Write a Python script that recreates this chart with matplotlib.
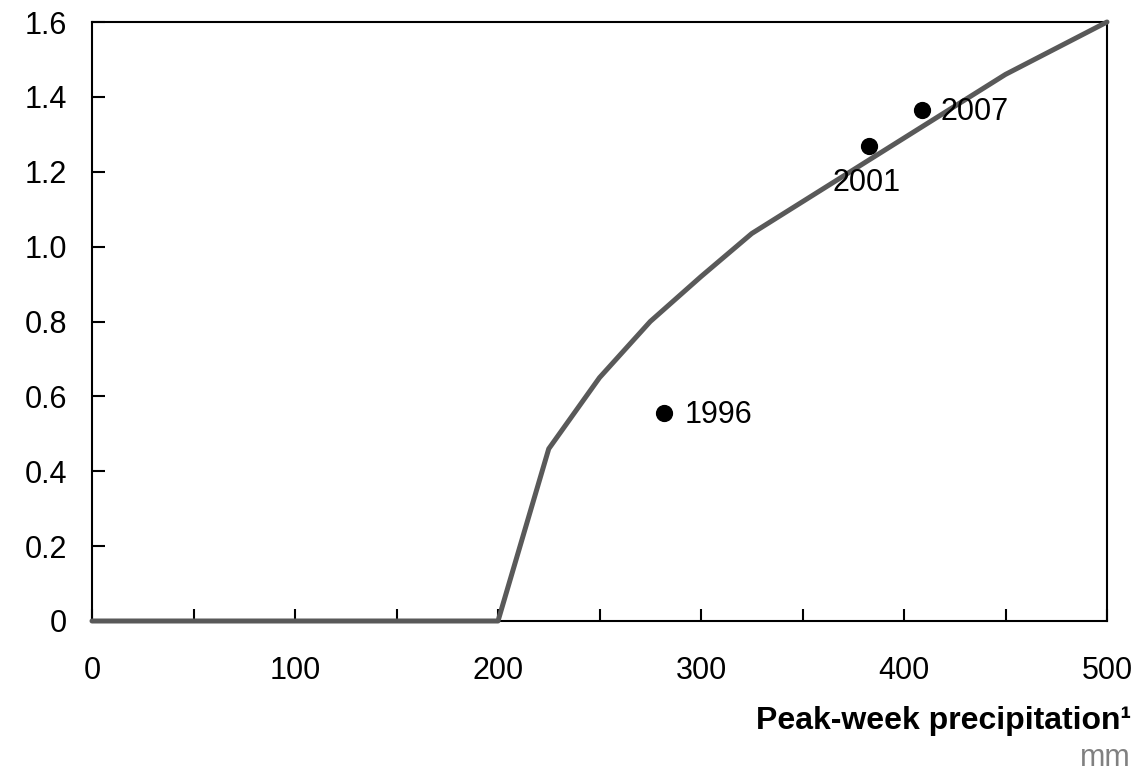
import matplotlib
matplotlib.use("Agg")
import matplotlib.pyplot as plt

curve_x = [0, 200, 225, 250, 275, 300, 325, 350, 375, 400, 425, 450, 475, 500]
curve_y = [0, 0, 0.46, 0.65, 0.80, 0.92, 1.035, 1.12, 1.205, 1.29, 1.375, 1.46, 1.53, 1.60]

years = ["1996", "2001", "2007"]
pts_x = [282, 383, 409]
pts_y = [0.555, 1.27, 1.365]

plt.rcParams['font.family'] = ['Liberation Sans', 'DejaVu Sans']

fig = plt.figure(figsize=(11.42, 7.75), dpi=100)
ax = fig.add_axes([92/1142, 1 - 621/775, (1107-92)/1142, (621-22)/775])

ax.plot(curve_x, curve_y, color='#595959', lw=3.6, solid_capstyle='round', zorder=3, clip_on=False)
ax.scatter(pts_x, pts_y, s=130, color='black', zorder=4, clip_on=False)

offsets = {"1996": (10, -0.005, 'left', 'center'),
           "2001": (-18, -0.10, 'left', 'center'),
           "2007": (9, -0.005, 'left', 'center')}
for yr, x, y in zip(years, pts_x, pts_y):
    dx, dy, ha, va = offsets[yr]
    ax.text(x + dx, y + dy, yr, fontsize=22, ha=ha, va=va, color='black', zorder=5)

ax.set_xlim(0, 500)
ax.set_ylim(0, 1.6)
ax.set_xticks(range(0, 501, 100))
ax.set_xticks(range(0, 501, 50), minor=True)
ax.set_yticks([0, 0.2, 0.4, 0.6, 0.8, 1.0, 1.2, 1.4, 1.6])
ax.set_yticklabels(["0", "0.2", "0.4", "0.6", "0.8", "1.0", "1.2", "1.4", "1.6"])
ax.tick_params(axis='both', which='both', direction='in', labelsize=22, width=1.5, color='black')
ax.tick_params(axis='x', which='major', length=9, pad=25)
ax.tick_params(axis='x', which='minor', length=9)
ax.tick_params(axis='y', which='major', length=9, pad=18)
for s in ax.spines.values():
    s.set_linewidth(1.5)
    s.set_color('black')

fig.text(1131/1142, 1 - 729/775, "Peak-week precipitation\u00b9", fontsize=23, fontweight='bold',
         ha='right', va='baseline')
fig.text(1131/1142, 1 - 766/775, "mm", fontsize=22, color='#808080', ha='right', va='baseline')

fig.savefig("out.png", dpi=100)
